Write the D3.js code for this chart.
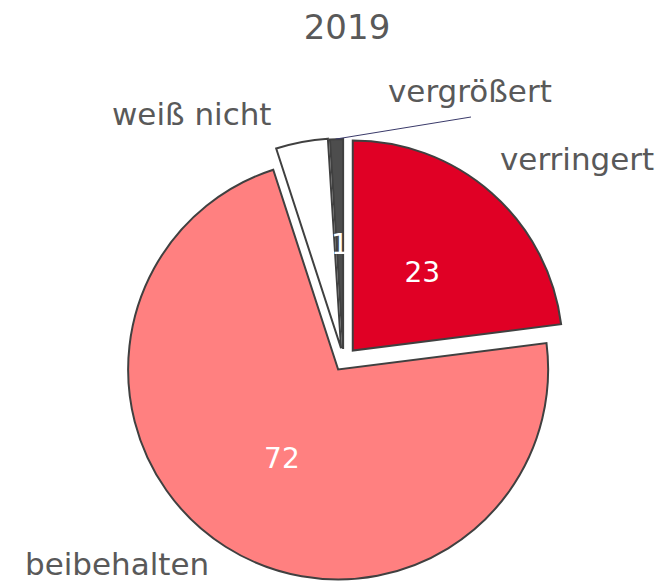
<!DOCTYPE html>
<html>
<head>
<meta charset="utf-8">
<script src="https://cdn.jsdelivr.net/npm/d3@7"></script>
<style>
  html, body { margin: 0; padding: 0; background: #fff; }
  svg { display: block; font-family: "DejaVu Sans", Verdana, sans-serif; }
</style>
</head>
<body>
<svg width="671" height="582"></svg>
<script>
const title = '2019';
const categories = ['verringert', 'beibehalten', 'weiß nicht', 'vergrößert'];
const values = [23, 72, 4, 1];
const colors = ['#e00025', '#ff8080', '#ffffff', '#4d4d4d'];

const svg = d3.select('svg');
const cx = 343.5, cy = 361, radius = 210;
// how far each slice is pulled out of the pie
const explode = [14, 10, 13, 12];

const pie = d3.pie().sort(null).value(d => d.value);
const arc = d3.arc().innerRadius(0).outerRadius(radius);

const slices = pie(categories.map((c, i) => ({ name: c, value: values[i], color: colors[i] })));

function shift(d, i) {
  const a = (d.startAngle + d.endAngle) / 2;
  return [explode[i] * Math.sin(a), -explode[i] * Math.cos(a)];
}

svg.append('text')
  .attr('x', 347).attr('y', 39)
  .attr('text-anchor', 'middle')
  .attr('font-size', 34)
  .attr('fill', '#595959')
  .text(title);

const g = svg.append('g').attr('transform', `translate(${cx},${cy})`);

const slice = g.selectAll('g.slice').data(slices).enter().append('g')
  .attr('class', 'slice')
  .attr('transform', (d, i) => { const s = shift(d, i); return `translate(${s[0]},${s[1]})`; });

slice.append('path')
  .attr('d', arc)
  .attr('fill', d => d.data.color)
  .attr('stroke', '#404040')
  .attr('stroke-width', 2)
  .attr('stroke-linejoin', 'miter');

// value labels at half radius
const inner = d3.arc().innerRadius(radius * 0.5).outerRadius(radius * 0.5);
slice.filter(d => d.data.name !== 'weiß nicht').append('text')
  .attr('transform', d => { const c = inner.centroid(d); return `translate(${c[0]},${c[1]})`; })
  .attr('text-anchor', 'middle')
  .attr('dy', '0.36em')
  .attr('font-size', 28)
  .attr('fill', '#fff')
  .text(d => d.data.value);

// category labels
const labelPos = [[500, 170, 'start'], [25, 575, 'start'], [112, 125, 'start'], [388, 102, 'start']];
svg.selectAll('text.cat').data(slices).enter().append('text')
  .attr('class', 'cat')
  .attr('x', (d, i) => labelPos[i][0])
  .attr('y', (d, i) => labelPos[i][1])
  .attr('text-anchor', (d, i) => labelPos[i][2])
  .attr('font-size', 31)
  .attr('fill', '#595959')
  .text(d => d.data.name);

// leader line for the small slice
const small = slices[3];
const sm = shift(small, 3);
const outer = d3.arc().innerRadius(radius).outerRadius(radius);
const p = outer.centroid(small);
svg.append('line')
  .attr('x1', cx + sm[0] + p[0] - 1).attr('y1', cy + sm[1] + p[1])
  .attr('x2', 471).attr('y2', 117)
  .attr('stroke', '#3a3a6a')
  .attr('stroke-width', 1);
</script>
</body>
</html>
